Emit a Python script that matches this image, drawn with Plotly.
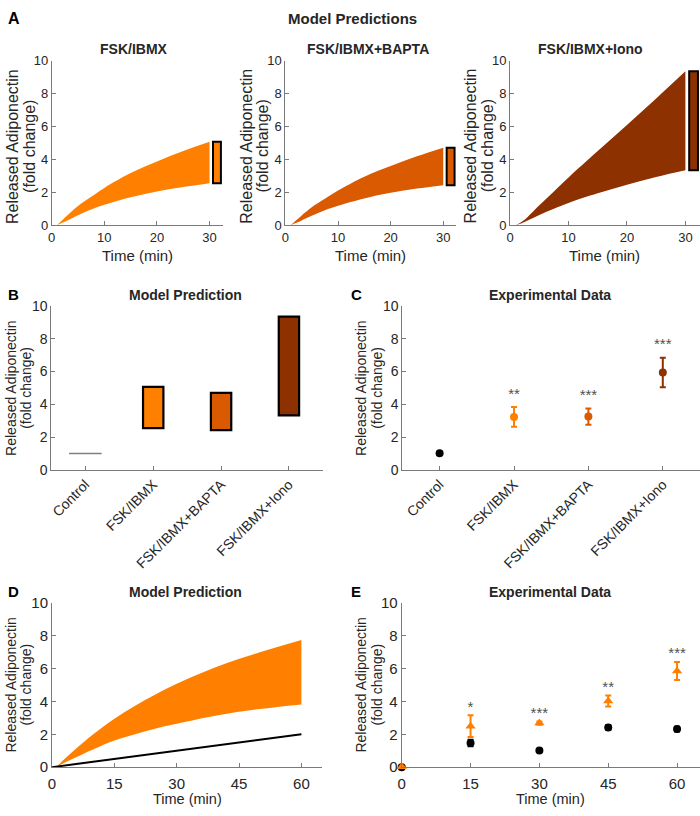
import plotly.graph_objects as go

# ---------------- DATA ----------------
# Panel A: model prediction bands (30 min)
t_a = [1, 2, 3, 5, 7.5, 10, 15, 20, 25, 30]
fsk_upper = [0, 0.3, 0.6, 1.16, 1.72, 2.26, 3.16, 3.86, 4.5, 5.06]
fsk_lower = [0, 0.14, 0.28, 0.6, 0.95, 1.24, 1.7, 2.05, 2.32, 2.55]
bapta_upper = [0, 0.28, 0.56, 1.08, 1.6, 2.1, 2.94, 3.59, 4.18, 4.7]
bapta_lower = [0, 0.13, 0.27, 0.57, 0.91, 1.18, 1.62, 1.96, 2.22, 2.43]
iono_upper = [0, 0.2, 0.5, 1.2, 2.05, 2.9, 4.5, 6.08, 7.7, 9.35]
iono_lower = [0, 0.12, 0.28, 0.62, 1.0, 1.35, 1.93, 2.45, 2.92, 3.33]

# Panel B / C categories
categories = ["Control", "FSK/IBMX", "FSK/IBMX+BAPTA", "FSK/IBMX+Iono"]
control_pred = 1.0

# Panel C: experimental data
exp_mean = [1.02, 3.23, 3.25, 5.94]
exp_err = [0.0, 0.6, 0.5, 0.9]
exp_stars = ["", "**", "***", "***"]

# Panel D: model prediction 60 min
t_d = [1, 3, 5, 7.5, 10, 15, 20, 25, 30, 40, 50, 60]
d_upper = [0, 0.5, 0.95, 1.5, 2.02, 2.95, 3.75, 4.45, 5.08, 6.15, 7.0, 7.75]
d_lower = [0, 0.27, 0.52, 0.81, 1.09, 1.62, 2.0, 2.36, 2.65, 3.17, 3.54, 3.82]
t_ctrl = [0, 60]
ctrl_line = [0, 2.0]

# Panel E: experimental time course
t_e = [0, 15, 30, 45, 60]
e_ctrl = [0.0, 1.47, 1.02, 2.42, 2.32]
e_ctrl_err = [0.0, 0.2, 0.07, 0.14, 0.14]
e_fsk = [0.03, 2.5, 2.69, 4.03, 5.86]
e_fsk_err = [0.0, 0.66, 0.1, 0.33, 0.55]
e_stars = ["", "*", "***", "**", "***"]

# ---------------- STYLE ----------------
C_FSK = "#FF8000"
C_BAPTA = "#D95A00"
C_IONO = "#8E3100"
AX = "#7a7a7a"
TXT = "#262626"
STAR = "#505050"
FONT = "Liberation Sans, Arial, sans-serif"
W, H = 700, 816


def px(x):
    return x / W


def py(y):
    return 1 - y / H


fig = go.Figure()


def axis_common(size):
    return dict(showline=True, linecolor=AX, linewidth=1, ticks="inside", ticklen=4,
                tickcolor=AX, showgrid=False, zeroline=False, mirror=False,
                tickfont=dict(size=size, color=TXT, family=FONT))


# domains (pixels): (x0, x1), (ytop, ybottom), tick font size
doms = {
    "A1": ((48, 220), (52.7, 220.7), 13),
    "A2": ((283, 455), (52.7, 220.7), 13),
    "A3": ((509, 700), (52.7, 220.7), 13),
    "B": ((47.7, 320.7), (303.3, 470.7), 14),
    "C": ((400.7, 700), (303.3, 470.7), 14),
    "D": ((48.3, 320), (606.7, 774.3), 15),
    "E": ((400, 700), (606.7, 774.3), 15),
}
names = ["A1", "A2", "A3", "B", "C", "D", "E"]
layout_axes = {}
for i, n in enumerate(names):
    (x0, x1), (y0, y1), fs = doms[n]
    k = "" if i == 0 else str(i + 1)
    xa = axis_common(fs)
    xa.update(domain=[px(x0), px(x1)], anchor="y" + k)
    ya = axis_common(fs)
    ya.update(domain=[py(y1), py(y0)], anchor="x" + k, range=[0, 10], tickvals=[0, 2, 4, 6, 8, 10])
    if n.startswith("A"):
        xa.update(range=[0, 32.5], tickvals=[0, 10, 20, 30])
    elif n in ("B", "C"):
        xa.update(range=[0.5, 4.5], tickvals=[1, 2, 3, 4], ticktext=categories, tickangle=-45,
                  tickfont=dict(size=14, color=TXT, family=FONT))
    else:
        xa.update(range=[0, 65], tickvals=[0, 15, 30, 45, 60], ticklabelstandoff=3)
    layout_axes["xaxis" + k] = xa
    layout_axes["yaxis" + k] = ya


def band(t, up, lo, color, xa, ya):
    fig.add_trace(go.Scatter(x=t, y=lo, mode="lines", line=dict(width=0, color=color, shape="spline"),
                             xaxis=xa, yaxis=ya, showlegend=False, hoverinfo="skip"))
    fig.add_trace(go.Scatter(x=t, y=up, mode="lines", line=dict(width=0, color=color, shape="spline"),
                             fill="tonexty", fillcolor=color, xaxis=xa, yaxis=ya, showlegend=False))


# Panel A
a_sets = [(fsk_upper, fsk_lower, C_FSK), (bapta_upper, bapta_lower, C_BAPTA), (iono_upper, iono_lower, C_IONO)]
for i, (up, lo, col) in enumerate(a_sets):
    k = "" if i == 0 else str(i + 1)
    band(t_a, up, lo, col, "x" + k, "y" + k)
    fig.add_trace(go.Bar(x=[t_a[-1] + 1.4], y=[up[-1] - lo[-1]], base=[lo[-1]], width=1.5,
                         marker=dict(color=col, line=dict(color="black", width=2)),
                         xaxis="x" + k, yaxis="y" + k, showlegend=False))

# Panel B
b_upper = [fsk_upper[-1], bapta_upper[-1], iono_upper[-1]]
b_lower = [fsk_lower[-1], bapta_lower[-1], iono_lower[-1]]
fig.add_trace(go.Bar(x=[2, 3, 4], y=[u - l for u, l in zip(b_upper, b_lower)], base=b_lower, width=0.3,
                     marker=dict(color=[C_FSK, C_BAPTA, C_IONO], line=dict(color="black", width=2.2)),
                     xaxis="x4", yaxis="y4", showlegend=False))
fig.add_trace(go.Scatter(x=[1 - 0.24, 1 + 0.24], y=[control_pred, control_pred], mode="lines",
                         line=dict(color="#808080", width=1.5), xaxis="x4", yaxis="y4", showlegend=False))

# Panel C
c_cols = ["black", C_FSK, C_BAPTA, C_IONO]
for i in range(4):
    fig.add_trace(go.Scatter(x=[i + 1], y=[exp_mean[i]], mode="markers",
                             marker=dict(color=c_cols[i], size=8),
                             error_y=dict(type="data", array=[exp_err[i]], color=c_cols[i], thickness=2, width=3,
                                          visible=exp_err[i] > 0),
                             xaxis="x5", yaxis="y5", showlegend=False))
fig.add_trace(go.Scatter(x=[1, 2, 3, 4], y=[m + e + 0.75 for m, e in zip(exp_mean, exp_err)], mode="text",
                         text=exp_stars, textfont=dict(size=15, color=STAR, family=FONT),
                         textposition="middle center", xaxis="x5", yaxis="y5", showlegend=False))

# Panel D
band(t_d, d_upper, d_lower, C_FSK, "x6", "y6")
fig.add_trace(go.Scatter(x=t_ctrl, y=ctrl_line, mode="lines", line=dict(color="black", width=2),
                         xaxis="x6", yaxis="y6", showlegend=False))

# Panel E
fig.add_trace(go.Scatter(x=t_e, y=e_ctrl, mode="markers", marker=dict(color="black", size=8),
                         error_y=dict(type="data", array=e_ctrl_err, color="black", thickness=2, width=3),
                         cliponaxis=False, xaxis="x7", yaxis="y7", showlegend=False))
fig.add_trace(go.Scatter(x=t_e, y=e_fsk, mode="markers", marker=dict(color=C_FSK, size=9, symbol="triangle-up"),
                         error_y=dict(type="data", array=e_fsk_err, color=C_FSK, thickness=2, width=3),
                         cliponaxis=False, xaxis="x7", yaxis="y7", showlegend=False))
fig.add_trace(go.Scatter(x=t_e, y=[max(a + b, c + d) + 0.45 for a, b, c, d in zip(e_fsk, e_fsk_err, e_ctrl, e_ctrl_err)],
                         mode="text", text=e_stars, textfont=dict(size=15, color=STAR, family=FONT),
                         textposition="middle center", xaxis="x7", yaxis="y7", showlegend=False))

# Annotations
ann = []


def text(x, y, s, size=14, bold=True, xanchor="center", angle=0, color=TXT):
    ann.append(dict(x=px(x), y=py(y), xref="paper", yref="paper", text=("<b>%s</b>" % s) if bold else s,
                    showarrow=False, xanchor=xanchor, yanchor="middle", textangle=angle,
                    font=dict(size=size, color=color, family=FONT)))


text(350, 10, "Model Predictions", size=15)
text(2, 10, "A", size=16, xanchor="left", color="black")
text(131, 41, "FSK/IBMX", size=14)
text(366, 41, "FSK/IBMX+BAPTA", size=14)
text(590, 41, "FSK/IBMX+Iono", size=14)
text(2, 292, "B", size=15, xanchor="left", color="black")
text(183, 292, "Model Prediction", size=14)
text(347, 292, "C", size=15, xanchor="left", color="black")
text(549, 292, "Experimental Data", size=14)
text(2, 595, "D", size=15, xanchor="left", color="black")
text(183, 595, "Model Prediction", size=14)
text(347, 595, "E", size=15, xanchor="left", color="black")
text(549, 595, "Experimental Data", size=14)

# axis titles
ylab1, ylab2 = "Released Adiponectin", "(fold change)"
for (l1, l2, yc, fs) in [(8, 25, 140, 16), (243, 260, 140, 16), (469, 486, 140, 16),
                         (7, 22, 387, 14), (359, 375, 387, 14), (7, 22, 690, 14), (359, 375, 690, 14)]:
    text(l1, yc, ylab1, size=fs, bold=False, angle=-90)
    text(l2, yc, ylab2, size=fs, bold=False, angle=-90)
for (xc, yc, fs) in [(134, 252, 15), (369, 252, 15), (604, 252, 15), (185, 807, 14.5), (550, 807, 14.5)]:
    text(xc, yc, "Time (min)", size=fs, bold=False)

fig.update_layout(width=W, height=H, margin=dict(l=0, r=0, t=0, b=0), paper_bgcolor="white",
                  plot_bgcolor="white", showlegend=False, annotations=ann, barmode="overlay",
                  font=dict(family=FONT, color=TXT), **layout_axes)

fig.write_html("out.html", config={"displayModeBar": False},
               post_script="document.body.style.margin='0';document.body.style.overflow='hidden';")
